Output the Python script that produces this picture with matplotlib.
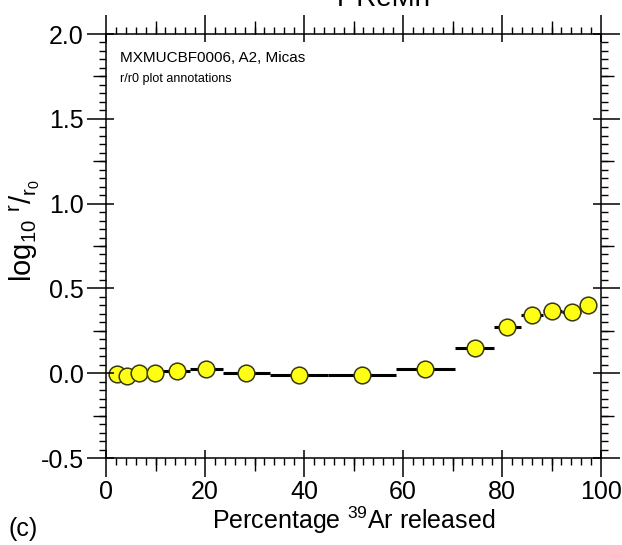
import matplotlib
matplotlib.use("Agg")
import matplotlib.pyplot as plt
from matplotlib.ticker import MultipleLocator, NullFormatter
import numpy as np

plt.rcParams['font.family'] = ['Liberation Sans', 'DejaVu Sans']
plt.rcParams['mathtext.default'] = 'regular'

# ---- data ----
step_edges = [1.2, 3.2, 5.2, 8.2, 11.6, 17.0, 23.6, 33.1, 44.8, 58.5,
              70.5, 78.4, 83.8, 88.2, 92.2, 96.0, 98.6]
log_r_r0 = [-0.005, -0.015, 0.0, 0.004, 0.012, 0.022, 0.004, -0.012, -0.012,
            0.025, 0.146, 0.27, 0.342, 0.367, 0.362, 0.40]
x_ticks = [0, 20, 40, 60, 80, 100]
y_ticks = [-0.5, 0.0, 0.5, 1.0, 1.5, 2.0]

edges = np.array(step_edges)
mids = (edges[:-1] + edges[1:]) / 2
half = (edges[1:] - edges[:-1]) / 2
yv = np.array(log_r_r0)

fig = plt.figure(figsize=(6.22, 5.45), dpi=100)
W, H = 622, 545
pos = [106 / W, 1 - 458 / H, (601 - 106) / W, (458 - 34) / H]
ax = fig.add_axes(pos)
ax.set_xlim(0, 100)
ax.set_ylim(-0.5, 2.0)

# step bars
ax.hlines(yv, mids - half, mids + half, colors='black', linewidth=2.2, zorder=2)
ax.plot(mids, yv, 'o', markersize=12, markerfacecolor='#FFFF14',
        markeredgecolor='#3a3a10', markeredgewidth=1.1, zorder=3, clip_on=False)

for s in ax.spines.values():
    s.set_linewidth(1.1)

ax.set_xticks(x_ticks)
ax.set_yticks(y_ticks)
ax.set_xticklabels([f"{v:g}" for v in x_ticks])
ax.set_yticklabels([f"{v:.1f}" for v in y_ticks])
ax.xaxis.set_minor_locator(MultipleLocator(2))
ax.yaxis.set_minor_locator(MultipleLocator(0.05))
ax.tick_params(which='major', direction='out', length=14, width=1.1,
               top=True, right=True, labelsize=18, pad=2)
ax.tick_params(which='minor', direction='out', length=5, width=1.0,
               top=True, right=True)

# overlay axes for inward major parts and medium ticks
ax2 = fig.add_axes(pos)
ax2.set_xlim(0, 100)
ax2.set_ylim(-0.5, 2.0)
ax2.patch.set_visible(False)
for s in ax2.spines.values():
    s.set_visible(False)
ax2.set_xticks(x_ticks)
ax2.set_yticks(y_ticks)
ax2.xaxis.set_minor_locator(MultipleLocator(10))
ax2.yaxis.set_minor_locator(MultipleLocator(0.25))
ax2.xaxis.set_major_formatter(NullFormatter())
ax2.yaxis.set_major_formatter(NullFormatter())
ax2.tick_params(which='major', direction='in', length=6, width=1.1,
                top=True, right=True, bottom=True, left=True,
                labelbottom=False, labelleft=False)
ax2.tick_params(which='minor', direction='out', length=9.5, width=1.0,
                top=True, right=True, bottom=True, left=True)

ax.set_xlabel(r'Percentage $^{39}$Ar released', fontsize=18, labelpad=0)
ax.set_ylabel(r'log$_{10}$ $^{r}$/$_{r_0}$', fontsize=21)
ax.yaxis.set_label_coords((42 - 106) / 495, (458 - 230) / 424)

ax.text(120 / W, 1 - 62 / H, 'MXMUCBF0006, A2, Micas', transform=fig.transFigure,
        fontsize=11, va='baseline', ha='left')
ax.text(120 / W, 1 - 82 / H, 'r/r0 plot annotations', transform=fig.transFigure,
        fontsize=9, va='baseline', ha='left')

fig.text(8 / W, 1 - 536 / H, '(c)', fontsize=18, va='baseline', ha='left')
fig.text(381 / W, 1 - 6 / H, 'T ReMn', fontsize=20, va='baseline', ha='center')

fig.savefig('out.png', dpi=100)
